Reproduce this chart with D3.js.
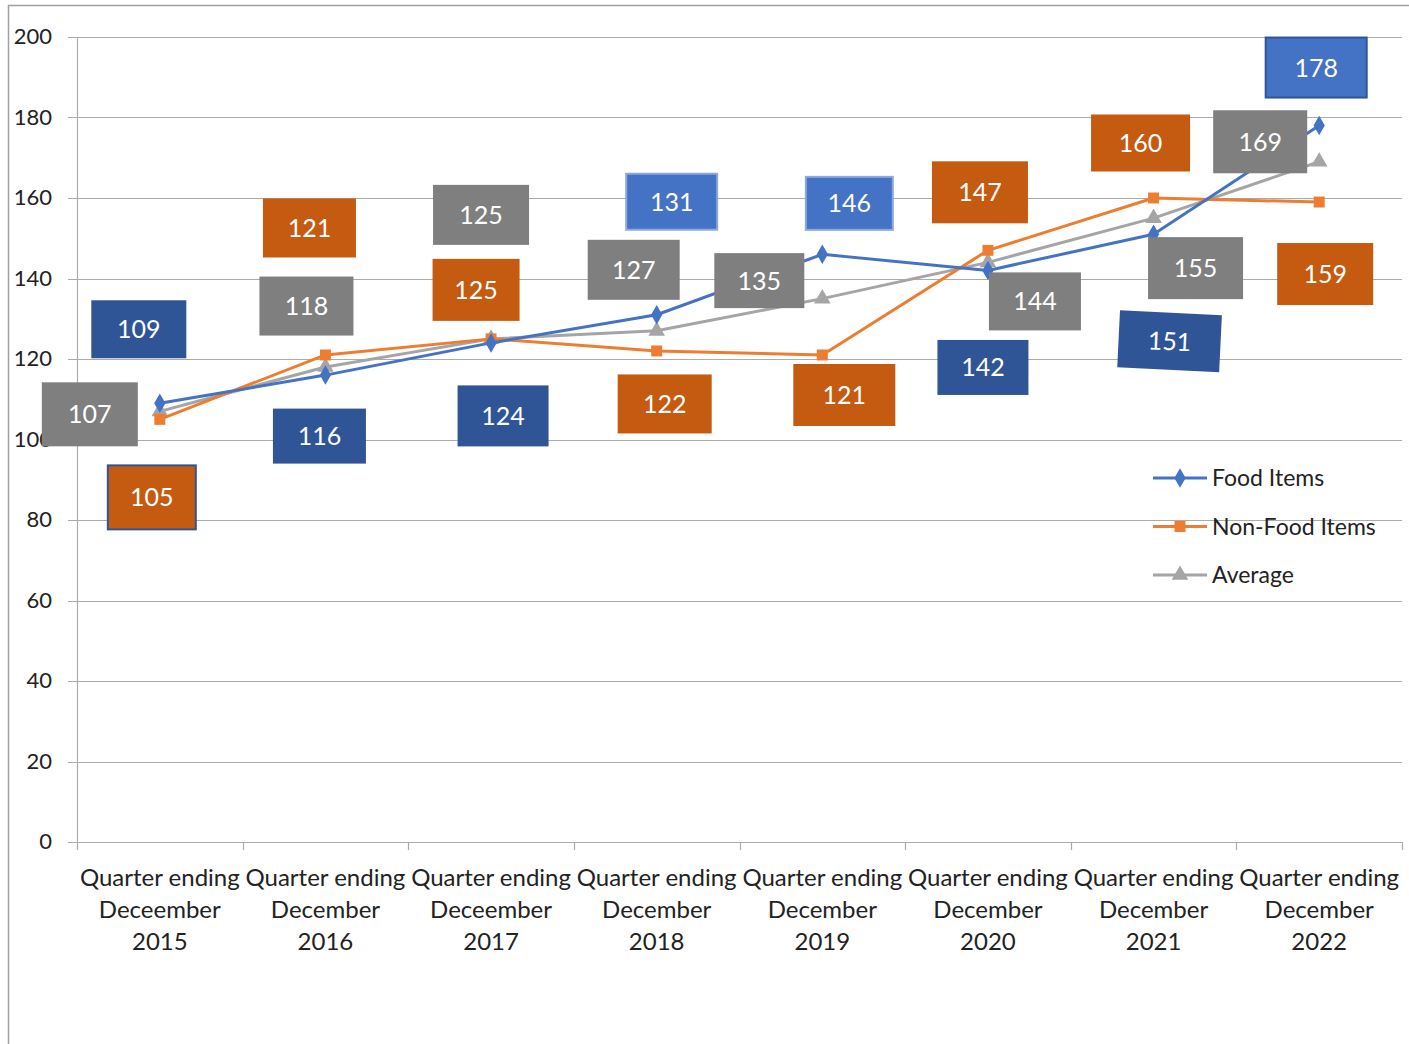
<!DOCTYPE html>
<html>
<head>
<meta charset="utf-8">
<script src="https://cdn.jsdelivr.net/npm/d3@7"></script>
<style>
  body { margin: 0; background: #fff; }
  svg { display: block; font-family: Lato, "Open Sans", sans-serif; }
</style>
</head>
<body>
<div id="chart"></div>
<script>
// data
var categories = [
    ['Quarter ending', 'Deceember', '2015'],
    ['Quarter ending', 'December', '2016'],
    ['Quarter ending', 'Deceember', '2017'],
    ['Quarter ending', 'December', '2018'],
    ['Quarter ending', 'December', '2019'],
    ['Quarter ending', 'December', '2020'],
    ['Quarter ending', 'December', '2021'],
    ['Quarter ending', 'December', '2022']
];
var foodItems = [109, 116, 124, 131, 146, 142, 151, 178];
var nonFoodItems = [105, 121, 125, 122, 121, 147, 160, 159];
var average = [107, 118, 125, 127, 135, 144, 155, 169];
var yTicks = [0, 20, 40, 60, 80, 100, 120, 140, 160, 180, 200];

// label box layout (offset of box centre from the point, box size)
var foodLabelOffsets = [[-21, -74], [-6, 61], [12, 73], [15, -113], [27, -51], [-5, 97], [16, 107], [-3, -58]];
var foodLabelSizes = [[95, 58], [93, 55], [91, 61], [91, 56], [87, 53], [91, 55], [102, 57], [101, 60]];
var foodLabelFills = ['#2F5597', '#2F5597', '#2F5597', '#4472C4', '#4472C4', '#2F5597', '#2F5597', '#4472C4'];
var foodLabelStrokes = [null, null, null, '#8EA9DB', '#8EA9DB', null, null, '#2F5597'];

var nonFoodLabelOffsets = [[-8, 78], [-16, -127], [-15, -49], [8, 53], [22, 40], [-8, -58], [-13, -55], [6, 72]];
var nonFoodLabelSizes = [[88, 64], [93, 59], [87, 62], [94, 59], [102, 62], [96, 62], [99, 57], [96, 62]];
var nonFoodLabelStrokes = ['#2F5597', null, null, null, null, null, null, null];

var avgLabelOffsets = [[-70, 3], [-19, -61], [-10, -124], [-23, -61], [-63, -18], [47, 39], [42, 50], [-59, -20]];
var avgLabelSizes = [[96, 64], [94, 59], [96, 60], [92, 60], [90, 55], [92, 58], [95, 62], [94, 63]];

var width = 1409, height = 1044;
var margin = {left: 77, right: 7, top: 37, bottom: 202};

var svg = d3.select('#chart').append('svg')
    .attr('width', width)
    .attr('height', height);

// outer frame
svg.append('path')
    .attr('d', 'M8.5,' + height + ' V5.5 H' + width)
    .attr('fill', 'none')
    .attr('stroke', '#a0a0a0')
    .attr('stroke-width', 1.5);

var x = d3.scaleBand()
    .domain(d3.range(categories.length))
    .range([margin.left, width - margin.right]);

var y = d3.scaleLinear()
    .domain([0, 200])
    .range([height - margin.bottom, margin.top]);

// gridlines + y labels
var yAxis = svg.append('g');
yAxis.selectAll('line')
    .data(yTicks)
    .enter()
    .append('line')
    .attr('x1', margin.left - 9)
    .attr('x2', width - margin.right)
    .attr('y1', function (d) { return Math.round(y(d)) + 0.5; })
    .attr('y2', function (d) { return Math.round(y(d)) + 0.5; })
    .attr('stroke', '#ababab')
    .attr('stroke-width', 1.2);

yAxis.selectAll('text')
    .data(yTicks)
    .enter()
    .append('text')
    .attr('x', 52)
    .attr('y', function (d) { return y(d) + 7; })
    .attr('text-anchor', 'end')
    .attr('font-size', 22)
    .attr('fill', '#222')
    .text(function (d) { return d; });

// y axis line
svg.append('line')
    .attr('x1', margin.left + 0.5)
    .attr('x2', margin.left + 0.5)
    .attr('y1', y(200))
    .attr('y2', y(0))
    .attr('stroke', '#ababab')
    .attr('stroke-width', 1.2);

// x ticks
var xTickPos = d3.range(categories.length + 1).map(function (i) {
    return i < categories.length ? x(i) : x(categories.length - 1) + x.bandwidth();
});
svg.append('g').selectAll('line')
    .data(xTickPos)
    .enter()
    .append('line')
    .attr('x1', function (d) { return Math.round(d) + 0.5; })
    .attr('x2', function (d) { return Math.round(d) + 0.5; })
    .attr('y1', y(0))
    .attr('y2', y(0) + 8)
    .attr('stroke', '#ababab')
    .attr('stroke-width', 1.2);

// x labels
var xLabels = svg.append('g').selectAll('text')
    .data(categories)
    .enter()
    .append('text')
    .attr('text-anchor', 'middle')
    .attr('font-size', 24)
    .attr('fill', '#222');
xLabels.each(function (d, i) {
    var t = d3.select(this);
    d.forEach(function (line, j) {
        t.append('tspan')
            .attr('x', x(i) + x.bandwidth() / 2)
            .attr('y', 886 + j * 32)
            .text(line);
    });
});

var cx = function (d, i) { return x(i) + x.bandwidth() / 2; };

var series = [
    {name: 'Food Items', values: foodItems, color: '#4472C4', marker: d3.symbolDiamond, size: 110,
        offsets: foodLabelOffsets, sizes: foodLabelSizes,
        fills: foodLabelFills, strokes: foodLabelStrokes},
    {name: 'Non-Food Items', values: nonFoodItems, color: '#ED7D31', marker: d3.symbolSquare, size: 120,
        offsets: nonFoodLabelOffsets, sizes: nonFoodLabelSizes,
        fills: nonFoodItems.map(function () { return '#C55A11'; }), strokes: nonFoodLabelStrokes},
    {name: 'Average', values: average, color: '#A5A5A5', marker: d3.symbolTriangle, size: 120,
        offsets: avgLabelOffsets, sizes: avgLabelSizes,
        fills: average.map(function () { return '#7F7F7F'; }), strokes: average.map(function () { return null; })}
];

var line = d3.line()
    .x(cx)
    .y(function (d) { return y(d); });

// lines and markers, drawn in reverse so Food sits on top
series.slice().reverse().forEach(function (s) {
    svg.append('path')
        .datum(s.values)
        .attr('d', line)
        .attr('fill', 'none')
        .attr('stroke', s.color)
        .attr('stroke-width', 3)
        .attr('stroke-linejoin', 'round');
    svg.append('g').selectAll('path')
        .data(s.values)
        .enter()
        .append('path')
        .attr('d', d3.symbol().type(s.marker).size(s.size))
        .attr('transform', function (d, i) { return 'translate(' + cx(d, i) + ',' + y(d) + ')'; })
        .attr('fill', s.color);
});

// data labels
series.forEach(function (s) {
    var g = svg.append('g').selectAll('g')
        .data(s.values)
        .enter()
        .append('g')
        .attr('transform', function (d, i) {
            var px = cx(d, i) + s.offsets[i][0];
            var py = y(d) + s.offsets[i][1];
            var rot = (s.name === 'Food Items' && i === 6) ? 2.8 : 0;
            return 'translate(' + px + ',' + py + ') rotate(' + rot + ')';
        });
    g.append('rect')
        .attr('x', function (d, i) { return -s.sizes[i][0] / 2; })
        .attr('y', function (d, i) { return -s.sizes[i][1] / 2; })
        .attr('width', function (d, i) { return s.sizes[i][0]; })
        .attr('height', function (d, i) { return s.sizes[i][1]; })
        .attr('fill', function (d, i) { return s.fills[i]; })
        .attr('stroke', function (d, i) { return s.strokes[i] || 'none'; })
        .attr('stroke-width', 2);
    g.append('text')
        .attr('text-anchor', 'middle')
        .attr('y', 9)
        .attr('font-size', 25)
        .attr('fill', '#fff')
        .text(function (d) { return d; });
});

// legend
var legend = svg.append('g').selectAll('g')
    .data(series)
    .enter()
    .append('g')
    .attr('transform', function (d, i) { return 'translate(1153,' + (478 + i * 48.5) + ')'; });
legend.append('line')
    .attr('x1', 0)
    .attr('x2', 54)
    .attr('stroke', function (d) { return d.color; })
    .attr('stroke-width', 3);
legend.append('path')
    .attr('d', function (d) { return d3.symbol().type(d.marker).size(d.size)(); })
    .attr('transform', 'translate(27,0)')
    .attr('fill', function (d) { return d.color; });
legend.append('text')
    .attr('x', 59)
    .attr('y', 8)
    .attr('font-size', 23)
    .attr('fill', '#222')
    .text(function (d) { return d.name; });
</script>
</body>
</html>
